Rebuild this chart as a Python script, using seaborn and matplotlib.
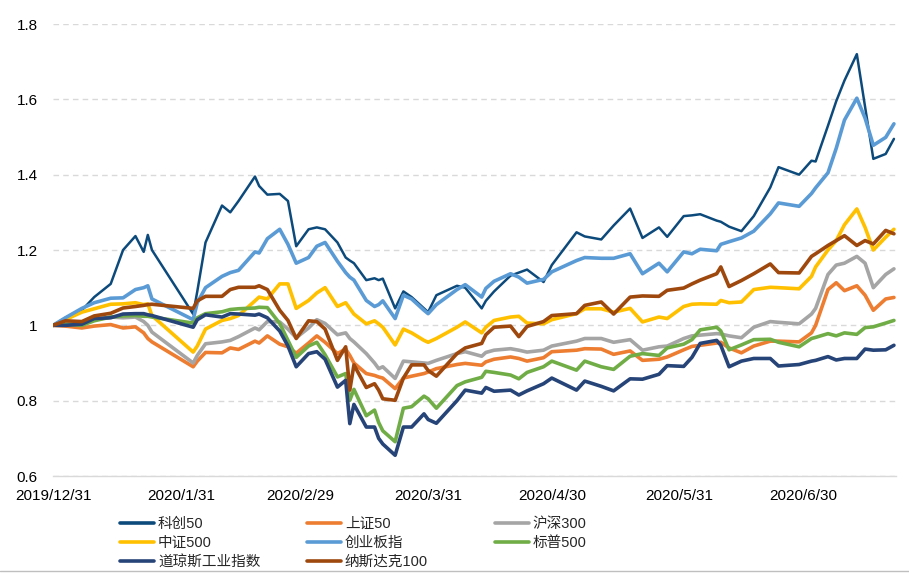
import pandas as pd
import seaborn as sns
import matplotlib.pyplot as plt
from matplotlib.lines import Line2D
from matplotlib.ticker import FuncFormatter


dates = ['2019-12-31', '2020-01-03', '2020-01-07', '2020-01-10', '2020-01-14', '2020-01-17', '2020-01-20', '2020-01-22', '2020-01-23', '2020-01-24',
         '2020-02-03', '2020-02-04', '2020-02-06', '2020-02-10', '2020-02-12', '2020-02-14', '2020-02-18', '2020-02-19', '2020-02-21', '2020-02-24',
         '2020-02-26', '2020-02-28', '2020-03-02', '2020-03-04', '2020-03-06', '2020-03-09', '2020-03-11', '2020-03-12', '2020-03-13', '2020-03-16',
         '2020-03-18', '2020-03-19', '2020-03-20', '2020-03-23', '2020-03-25', '2020-03-27', '2020-03-30', '2020-03-31', '2020-04-02', '2020-04-07',
         '2020-04-09', '2020-04-13', '2020-04-14', '2020-04-16', '2020-04-20', '2020-04-22', '2020-04-24', '2020-04-28', '2020-04-30', '2020-05-06',
         '2020-05-08', '2020-05-12', '2020-05-15', '2020-05-19', '2020-05-22', '2020-05-26', '2020-05-28', '2020-06-01', '2020-06-03', '2020-06-05',
         '2020-06-09', '2020-06-10', '2020-06-12', '2020-06-15', '2020-06-18', '2020-06-22', '2020-06-24', '2020-06-29', '2020-07-02', '2020-07-03',
         '2020-07-06', '2020-07-08', '2020-07-10', '2020-07-13', '2020-07-15', '2020-07-17', '2020-07-20', '2020-07-22']

kc50 = [1.00, 1.02, 1.04, 1.075, 1.11, 1.20, 1.237, 1.195, 1.24, 1.20,
        1.03, 1.09, 1.22, 1.318, 1.30, 1.33, 1.395, 1.37, 1.347, 1.349,
        1.33, 1.21, 1.255, 1.26, 1.255, 1.22, 1.18, 1.172, 1.165, 1.12,
        1.125, 1.12, 1.124, 1.045, 1.09, 1.075, 1.045, 1.035, 1.08, 1.105,
        1.10, 1.045, 1.065, 1.09, 1.132, 1.14, 1.148, 1.115, 1.16, 1.247,
        1.236, 1.228, 1.265, 1.31, 1.232, 1.26, 1.235, 1.29, 1.292, 1.295,
        1.278, 1.275, 1.262, 1.25, 1.29, 1.366, 1.42, 1.40, 1.437, 1.435,
        1.53, 1.595, 1.65, 1.72, 1.58, 1.442, 1.455, 1.495]

sz50 = [1.0, 0.998, 0.993, 0.998, 1.002, 0.993, 0.996, 0.98, 0.965, 0.956,
        0.89, 0.905, 0.928, 0.927, 0.94, 0.936, 0.958, 0.953, 0.972, 0.95,
        0.943, 0.926, 0.953, 0.972, 0.955, 0.925, 0.937, 0.92, 0.90, 0.872,
        0.867, 0.863, 0.86, 0.832, 0.86, 0.865, 0.872, 0.876, 0.885, 0.896,
        0.899, 0.894, 0.903, 0.91, 0.916, 0.912, 0.905, 0.914, 0.93, 0.934,
        0.938, 0.937, 0.923, 0.932, 0.907, 0.91, 0.916, 0.935, 0.944, 0.947,
        0.953, 0.955, 0.94, 0.927, 0.945, 0.958, 0.958, 0.956, 0.98, 1.0,
        1.095, 1.113, 1.092, 1.105, 1.08, 1.04, 1.07, 1.074]

hs300 = [1.0, 1.01, 1.005, 1.015, 1.022, 1.02, 1.022, 1.01, 1.0, 0.982,
         0.90, 0.92, 0.951, 0.956, 0.96, 0.97, 0.993, 0.988, 1.01, 1.009,
         0.99, 0.967, 0.993, 1.015, 1.005, 0.975, 0.98, 0.965, 0.956, 0.925,
         0.90, 0.885, 0.89, 0.859, 0.905, 0.903, 0.90, 0.899, 0.907, 0.925,
         0.93, 0.918, 0.928, 0.934, 0.938, 0.934, 0.929, 0.934, 0.945, 0.958,
         0.965, 0.965, 0.955, 0.962, 0.934, 0.943, 0.945, 0.965, 0.972, 0.974,
         0.978, 0.977, 0.972, 0.967, 0.995, 1.01, 1.008, 1.004, 1.03, 1.045,
         1.135, 1.16, 1.165, 1.183, 1.165, 1.10, 1.135, 1.15]

zz500 = [1.00, 1.015, 1.035, 1.044, 1.056, 1.057, 1.06, 1.055, 1.057, 1.026,
         0.929, 0.945, 0.99, 1.013, 1.018, 1.026, 1.065, 1.075, 1.07, 1.11,
         1.11, 1.045, 1.066, 1.086, 1.10, 1.05, 1.06, 1.045, 1.03, 1.004,
         1.012, 1.004, 0.995, 0.948, 0.99, 0.98, 0.96, 0.955, 0.965, 0.995,
         1.009, 0.98, 0.995, 1.013, 1.022, 1.024, 1.006, 1.004, 1.015, 1.031,
         1.044, 1.044, 1.035, 1.045, 1.009, 1.022, 1.018, 1.05, 1.056, 1.057,
         1.056, 1.066, 1.06, 1.062, 1.095, 1.101, 1.10, 1.097, 1.13, 1.155,
         1.20, 1.225, 1.267, 1.309, 1.26, 1.20, 1.234, 1.255]

cyb = [1.00, 1.02, 1.045, 1.06, 1.072, 1.073, 1.095, 1.10, 1.105, 1.07,
       1.015, 1.06, 1.10, 1.13, 1.14, 1.146, 1.195, 1.192, 1.23, 1.255,
       1.215, 1.165, 1.18, 1.21, 1.22, 1.17, 1.14, 1.128, 1.12, 1.066,
       1.05, 1.055, 1.065, 1.018, 1.08, 1.07, 1.04, 1.031, 1.055, 1.095,
       1.108, 1.075, 1.098, 1.117, 1.137, 1.128, 1.112, 1.122, 1.142, 1.172,
       1.18, 1.178, 1.178, 1.19, 1.137, 1.165, 1.142, 1.195, 1.19, 1.202,
       1.198, 1.215, 1.222, 1.232, 1.25, 1.296, 1.325, 1.316, 1.35, 1.365,
       1.405, 1.47, 1.545, 1.603, 1.55, 1.478, 1.499, 1.535]

sp500 = [1.0, 1.003, 1.0, 1.012, 1.022, 1.025, 1.026, 1.024, 1.024, 1.022,
         1.006, 1.02, 1.031, 1.036, 1.042, 1.044, 1.046, 1.048, 1.047, 1.005,
         0.96, 0.915, 0.945, 0.955, 0.922, 0.863, 0.872, 0.801, 0.83, 0.76,
         0.775, 0.742, 0.72, 0.691, 0.78, 0.784, 0.812, 0.805, 0.78, 0.84,
         0.85, 0.862, 0.878, 0.875, 0.868, 0.858, 0.875, 0.89, 0.905, 0.881,
         0.905, 0.89, 0.883, 0.918, 0.925, 0.92, 0.94, 0.95, 0.962, 0.988,
         0.995, 0.985, 0.935, 0.948, 0.962, 0.963, 0.955, 0.943, 0.965, 0.968,
         0.978, 0.972, 0.98, 0.976, 0.994, 0.996, 1.006, 1.013]

dji = [1.0, 1.0, 1.003, 1.018, 1.02, 1.03, 1.031, 1.031, 1.028, 1.026,
       0.995, 1.015, 1.028, 1.022, 1.031, 1.03, 1.027, 1.03, 1.02, 0.985,
       0.945, 0.89, 0.925, 0.93, 0.91, 0.836, 0.854, 0.739, 0.79, 0.73,
       0.73, 0.70, 0.685, 0.655, 0.73, 0.73, 0.765, 0.75, 0.74, 0.80,
       0.828, 0.82, 0.835, 0.825, 0.828, 0.815, 0.826, 0.845, 0.86, 0.828,
       0.852, 0.838, 0.826, 0.858, 0.857, 0.87, 0.893, 0.891, 0.915, 0.952,
       0.96, 0.947, 0.89, 0.905, 0.912, 0.912, 0.892, 0.896, 0.905, 0.907,
       0.917, 0.908, 0.912, 0.912, 0.937, 0.934, 0.935, 0.947]

ndx = [1.00, 1.012, 1.01, 1.025, 1.032, 1.046, 1.05, 1.053, 1.055, 1.056,
       1.045, 1.065, 1.077, 1.077, 1.095, 1.101, 1.101, 1.105, 1.095, 1.04,
       1.013, 0.965, 1.012, 1.01, 0.99, 0.907, 0.943, 0.828, 0.895, 0.835,
       0.845, 0.828, 0.805, 0.801, 0.86, 0.895, 0.895, 0.88, 0.865, 0.925,
       0.94, 0.952, 0.975, 0.995, 0.998, 0.97, 0.997, 1.01, 1.026, 1.031,
       1.053, 1.062, 1.03, 1.075, 1.078, 1.077, 1.093, 1.099, 1.11, 1.12,
       1.137, 1.155, 1.103, 1.119, 1.137, 1.163, 1.14, 1.139, 1.183, 1.19,
       1.212, 1.225, 1.238, 1.212, 1.225, 1.216, 1.252, 1.243]

series_names = ['科创50', '上证50', '沪深300', '中证500', '创业板指', '标普500', '道琼斯工业指数', '纳斯达克100']
series_values = [kc50, sz50, hs300, zz500, cyb, sp500, dji, ndx]
tick_dates = ['2019-12-31', '2020-01-31', '2020-02-29', '2020-03-31', '2020-04-30', '2020-05-31', '2020-06-30']
y_ticks = [0.6, 0.8, 1.0, 1.2, 1.4, 1.6, 1.8]

colors = {'科创50': '#0D4A7C', '上证50': '#ED7D31', '沪深300': '#A5A5A5', '中证500': '#FFC000',
          '创业板指': '#5B9BD5', '标普500': '#70AD47', '道琼斯工业指数': '#264478', '纳斯达克100': '#9E480E'}
widths = {name: 2.6 for name in series_names}
widths['科创50'] = 1.8

sns.set_style('white')
plt.rcParams['font.family'] = ['Liberation Sans', 'Noto Sans CJK SC']

dt = pd.to_datetime(dates)
df = pd.concat([pd.DataFrame({'date': dt, 'value': v, 'index': n})
                for n, v in zip(series_names, series_values)])

fig = plt.figure(figsize=(9.09, 5.73), dpi=100)
ax = fig.add_axes([53 / 909, 1 - 476 / 573, (896 - 53) / 909, (476 - 24) / 573])

for name in series_names:
    sns.lineplot(data=df[df['index'] == name], x='date', y='value', color=colors[name],
                 linewidth=widths[name], ax=ax, legend=False)

ax.set_xlim(pd.Timestamp('2019-12-31'), pd.Timestamp('2020-07-22 12:00'))
ax.set_ylim(0.6, 1.8)
ax.set_yticks(y_ticks)
ax.yaxis.set_major_formatter(FuncFormatter(lambda v, p: f'{v:g}'))
ticks = pd.to_datetime(tick_dates)
ax.set_xticks(ticks)
ax.set_xticklabels([f'{d.year}/{d.month}/{d.day}' for d in ticks])
ax.set_xlabel('')
ax.set_ylabel('')

ax.grid(axis='y', color='#D9D9D9', linestyle=(0, (4, 3)), linewidth=1)
ax.set_axisbelow(True)
for side in ['left', 'right', 'top']:
    ax.spines[side].set_visible(False)
ax.spines['bottom'].set_color('#D9D9D9')
ax.spines['bottom'].set_linewidth(1)
ax.tick_params(axis='y', length=0, pad=11, labelsize=11, labelcolor='#000000')
ax.tick_params(axis='x', length=4, width=1, color='#D9D9D9', pad=5, labelsize=11, labelcolor='#000000')

# legend: three columns laid out row by row
columns = [['科创50', '中证500', '道琼斯工业指数'], ['上证50', '创业板指', '纳斯达克100'], ['沪深300', '标普500']]
col_x = [120, 307, 495]
for names, x in zip(columns, col_x):
    handles = [Line2D([], [], color=colors[n], linewidth=2.6) for n in names]
    fig.legend(handles, names, loc='upper left', bbox_to_anchor=(x / 909, 1 - 517 / 573),
               frameon=False, fontsize=10.5, handlelength=2.3, handletextpad=0.3,
               labelspacing=0.33, borderpad=0, borderaxespad=0)

fig.add_artist(Line2D([0, 1], [0.003, 0.003], color='#BFBFBF', linewidth=1, transform=fig.transFigure))

fig.savefig('out.png', dpi=100)
